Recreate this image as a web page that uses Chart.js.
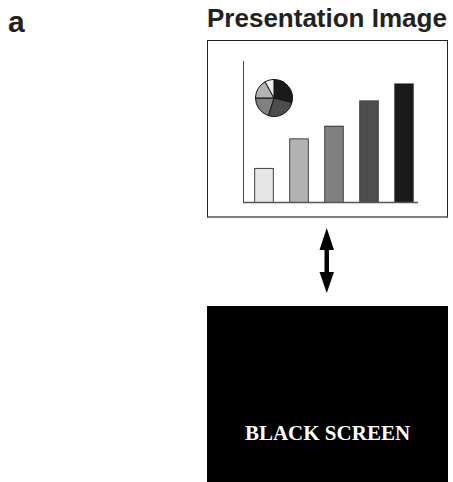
<!DOCTYPE html>
<html>
<head>
<meta charset="utf-8">
<script src="https://cdn.jsdelivr.net/npm/chart.js@4"></script>
<style>
  html, body { margin: 0; padding: 0; background: #fff; width: 453px; height: 482px; overflow: hidden; }
  .abs { position: absolute; }
  #panelLabel { left: 8px; top: 7px; font: bold 30px "Liberation Sans", Arial, sans-serif; line-height: 30px; color: #222; }
  #title { left: 207px; top: 5px; font: bold 26px "Liberation Sans", Arial, sans-serif; line-height: 26px; color: #222; white-space: nowrap; }
  #frame { left: 207px; top: 40px; width: 241px; height: 178px; box-sizing: border-box; border: 1px solid #222; border-bottom: 2px solid #808080; }
  #barWrap { left: 238px; top: 56px; width: 185px; height: 151px; }
  #pieWrap { left: 255px; top: 79px; width: 38px; height: 38px; }
  #black { left: 207px; top: 306px; width: 241px; height: 176px; background: #000; }
  #blackText { left: 207px; top: 423px; width: 241px; text-align: center; font: bold 21px "Liberation Serif", "Times New Roman", serif; line-height: 20px; color: #fff; white-space: nowrap; }
</style>
</head>
<body>
<div id="panelLabel" class="abs">a</div>
<div id="title" class="abs">Presentation Image</div>
<div id="frame" class="abs"></div>
<div id="barWrap" class="abs"><canvas id="bars" width="185" height="151"></canvas></div>
<div id="pieWrap" class="abs"><canvas id="pie" width="38" height="38"></canvas></div>
<svg class="abs" style="left:0;top:0" width="453" height="482">
  <rect x="324.5" y="247" width="4.5" height="27" fill="#000"/>
  <polygon points="326.75,228 319.5,250 334,250" fill="#000"/>
  <polygon points="326.75,293 319.5,272 334,272" fill="#000"/>
</svg>
<div id="black" class="abs"></div>
<div id="blackText" class="abs">BLACK SCREEN</div>
<script>
// ---- data ----
const categories = [1, 2, 3, 4, 5];
const barValues = [24, 45, 54, 72, 84];
const barColors = ['#e6e6e6', '#b3b3b3', '#808080', '#4d4d4d', '#1a1a1a'];
const pieValues = [29, 26, 20, 17, 8];
const pieColors = ['#1a1a1a', '#4d4d4d', '#808080', '#b3b3b3', '#ececec'];

const axisLines = {
  id: 'axisLines',
  afterDatasetsDraw(chart) {
    const { ctx, chartArea: a } = chart;
    ctx.save();
    ctx.strokeStyle = '#444';
    ctx.lineWidth = 1;
    ctx.beginPath();
    ctx.moveTo(a.left + 0.5, a.top);
    ctx.lineTo(a.left + 0.5, a.bottom + 0.5);
    ctx.stroke();
    ctx.strokeStyle = '#555';
    ctx.lineWidth = 1.5;
    ctx.beginPath();
    ctx.moveTo(a.left, a.bottom + 0.5);
    ctx.lineTo(a.right, a.bottom + 0.5);
    ctx.stroke();
    ctx.restore();
  }
};

new Chart(document.getElementById('bars'), {
  type: 'bar',
  data: {
    datasets: [{
      data: categories.map((c, i) => ({ x: c, y: barValues[i] })),
      backgroundColor: barColors,
      borderColor: '#1a1a1a',
      borderWidth: 1,
      borderSkipped: 'bottom',
      barThickness: 19
    }]
  },
  options: {
    responsive: false,
    animation: false,
    events: [],
    layout: { padding: { left: 5, top: 5, right: 5, bottom: 5 } },
    plugins: { legend: { display: false }, tooltip: { enabled: false } },
    scales: {
      x: { type: 'linear', min: 0.4, max: 5.4, offset: false, display: false },
      y: { min: 0, max: 100, display: false }
    }
  },
  plugins: [axisLines]
});

new Chart(document.getElementById('pie'), {
  type: 'pie',
  data: {
    labels: ['A', 'B', 'C', 'D', 'E'],
    datasets: [{
      data: pieValues,
      backgroundColor: pieColors,
      borderColor: '#111',
      borderWidth: 1
    }]
  },
  options: {
    responsive: false,
    animation: false,
    events: [],
    layout: { padding: 0 },
    plugins: { legend: { display: false }, tooltip: { enabled: false } }
  }
});
</script>
</body>
</html>
